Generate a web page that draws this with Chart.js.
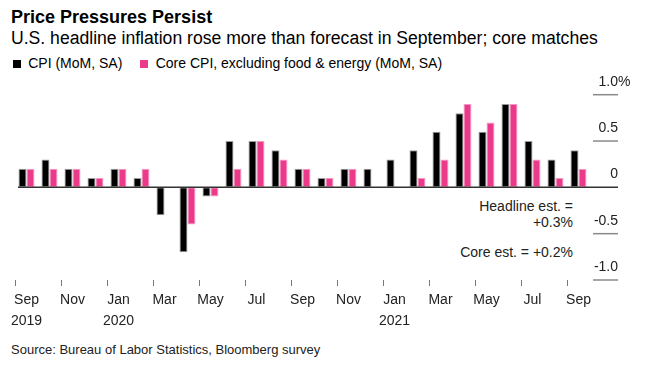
<!DOCTYPE html>
<html>
<head>
<meta charset="utf-8">
<script src="https://cdn.jsdelivr.net/npm/chart.js@4/dist/chart.umd.min.js"></script>
<style>
  html, body { margin: 0; padding: 0; background: #fff; }
  body { width: 647px; height: 378px; position: relative; overflow: hidden;
         font-family: "Liberation Sans", Arial, sans-serif; color: #000; }
  .txt { position: absolute; white-space: nowrap; }
  #title { left: 11px; top: 7.5px; font-size: 18px; line-height: 18px; font-weight: bold; }
  #subtitle { left: 11px; top: 30px; font-size: 17.6px; line-height: 17.6px; }
  #legend { left: 12.7px; top: 56.4px; font-size: 14px; line-height: 14px; }
  #legend .box { display: inline-block; width: 8px; height: 8.5px; margin-right: 7.5px; vertical-align: 0px; }
  #legend .item { margin-right: 14px; }
  #source { left: 11px; top: 343px; font-size: 13px; line-height: 13px; color: #222; }
  .note { right: 74px; font-size: 14px; line-height: 14px; text-align: right; color: #222; }
  canvas { position: absolute; left: 0; top: 0; }
</style>
</head>
<body>
<div class="txt" id="title">Price Pressures Persist</div>
<div class="txt" id="subtitle">U.S. headline inflation rose more than forecast in September; core matches</div>
<div class="txt" id="legend">
  <span class="item"><span class="box" style="background:#000"></span>CPI (MoM, SA)</span>
  <span class="item"><span class="box" style="background:#ec3a8b"></span>Core CPI, excluding food &amp; energy (MoM, SA)</span>
</div>
<div class="txt note" style="top:198.9px">Headline est. =</div>
<div class="txt note" style="top:214.9px">+0.3%</div>
<div class="txt note" style="top:245.2px">Core est. = +0.2%</div>
<div class="txt" id="source">Source: Bureau of Labor Statistics, Bloomberg survey</div>
<canvas id="chart" width="647" height="378"></canvas>
<script>
// months Sep 2019 .. Sep 2021
const months = ['Sep', 'Oct', 'Nov', 'Dec', 'Jan', 'Feb', 'Mar', 'Apr', 'May', 'Jun', 'Jul', 'Aug',
  'Sep', 'Oct', 'Nov', 'Dec', 'Jan', 'Feb', 'Mar', 'Apr', 'May', 'Jun', 'Jul', 'Aug', 'Sep']
const years = ['2019', '', '', '', '2020', '', '', '', '', '', '', '',
  '', '', '', '', '2021', '', '', '', '', '', '', '', '']
const cpi = [0.2, 0.3, 0.2, 0.1, 0.2, 0.1, -0.3, -0.7, -0.1, 0.5, 0.5, 0.4,
  0.2, 0.1, 0.2, 0.2, 0.3, 0.4, 0.6, 0.8, 0.6, 0.9, 0.5, 0.3, 0.4]
const core = [0.2, 0.2, 0.2, 0.1, 0.2, 0.2, 0.0, -0.4, -0.1, 0.2, 0.5, 0.3,
  0.2, 0.1, 0.2, 0.0, 0.0, 0.1, 0.3, 0.9, 0.7, 0.9, 0.3, 0.1, 0.2]
const yTicks = [1.0, 0.5, 0, -0.5, -1.0]
const yTickLabels = ['1.0', '0.5', '0', '-0.5', '-1.0']

const PINK = '#ec3a8b'
const FONT = '"Liberation Sans", Arial, sans-serif'

// right-hand axis: short grid stubs, labels sitting above them, full zero line
const rightAxis = {
  id: 'rightAxis',
  afterDatasetsDraw(chart) {
    const ctx = chart.ctx
    const y = chart.scales.y
    const x0 = 593, x1 = 618
    ctx.save()
    yTicks.forEach((v, i) => {
      const py = y.getPixelForValue(v)
      ctx.beginPath()
      if (v === 0) {
        ctx.strokeStyle = '#333'
        ctx.lineWidth = 1.5
        ctx.moveTo(18, py)
      } else {
        ctx.strokeStyle = '#8a8a8a'
        ctx.lineWidth = 1.5
        ctx.moveTo(x0, py)
      }
      ctx.lineTo(x1, py)
      ctx.stroke()

      ctx.font = '14px ' + FONT
      ctx.fillStyle = '#222'
      ctx.textBaseline = 'middle'
      ctx.textAlign = 'right'
      ctx.fillText(yTickLabels[i], x1, py - 13)
      if (i === 0) {
        ctx.textAlign = 'left'
        ctx.fillText('%', x1, py - 13)
      }
    })
    ctx.restore()
  }
}

new Chart(document.getElementById('chart'), {
  type: 'bar',
  data: {
    labels: months.map((m, i) => m + ' ' + (years[i] || '')),
    datasets: [
      { label: 'CPI (MoM, SA)', data: cpi, backgroundColor: '#000',
        borderColor: '#9a9a9a', borderWidth: 1, borderSkipped: false },
      { label: 'Core CPI, excluding food & energy (MoM, SA)', data: core, backgroundColor: PINK,
        borderColor: '#f49ac2', borderWidth: 1, borderSkipped: false }
    ]
  },
  options: {
    responsive: false,
    animation: false,
    devicePixelRatio: 1,
    layout: { padding: { left: 15, right: 57, top: 94.7, bottom: 0 } },
    datasets: { bar: { barPercentage: 1.0, categoryPercentage: 0.696 } },
    plugins: { legend: { display: false }, tooltip: { enabled: false } },
    scales: {
      x: {
        offset: true,
        border: { display: false },
        grid: {
          drawOnChartArea: false,
          drawTicks: true,
          tickLength: 6,
          color: c => (c.index % 2 === 0 ? '#777' : 'rgba(0,0,0,0)')
        },
        ticks: {
          autoSkip: false,
          maxRotation: 0,
          padding: 4,
          color: '#222',
          font: { family: FONT, size: 14, lineHeight: 1.5 },
          callback: (v, i) => {
            if (i % 2) return ''
            return years[i] ? [months[i], years[i]] : months[i]
          }
        },
        afterFit: s => { s.height = 98 }
      },
      y: {
        display: false,
        min: -1.0,
        max: 1.0
      }
    }
  },
  plugins: [rightAxis]
})
</script>
</body>
</html>
